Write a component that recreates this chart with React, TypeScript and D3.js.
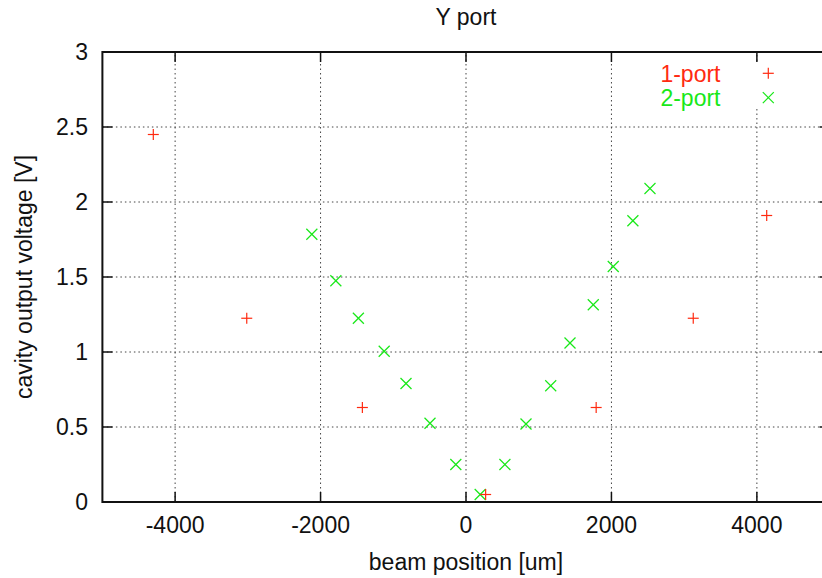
import React from "react";
import * as d3 from "d3";

const onePortX = [-4300, -3015, -1425, 270, 1790, 3125, 4135];
const onePortY = [2.45, 1.225, 0.63, 0.05, 0.63, 1.225, 1.91];
const twoPortX = [-2120, -1790, -1480, -1125, -825, -495, -140, 195, 535, 825, 1165, 1430, 1750, 2025, 2295, 2530];
const twoPortY = [1.785, 1.475, 1.225, 1.005, 0.79, 0.525, 0.25, 0.05, 0.25, 0.52, 0.775, 1.06, 1.315, 1.57, 1.875, 2.09];
const xTicks = [-4000, -2000, 0, 2000, 4000];
const yTicks = [0, 0.5, 1, 1.5, 2, 2.5, 3];
const seriesNames = ["1-port", "2-port"];

const W = 822, H = 578;
const RED = "#ff2a10";
const GREEN = "#18e818";
const FONT = "'Liberation Sans', Arial, Helvetica, sans-serif";

export default function App() {
  const x = d3.scaleLinear().domain([-5000, 5000]).range([102.4, 829.6]);
  const y = d3.scaleLinear().domain([0, 3]).range([502, 52]);
  const [x0, x1] = x.range();
  const [y0, y1] = y.range();
  const tl = 10;
  const plus = (cx: number, cy: number, c: string, k: string) => (
    <g key={k} stroke={c} strokeWidth={1.2}>
      <line x1={cx - 5.5} x2={cx + 5.5} y1={cy} y2={cy} />
      <line x1={cx} x2={cx} y1={cy - 5.5} y2={cy + 5.5} />
    </g>
  );
  const cross = (cx: number, cy: number, c: string, k: string) => (
    <g key={k} stroke={c} strokeWidth={1.2}>
      <line x1={cx - 5.5} x2={cx + 5.5} y1={cy - 5.5} y2={cy + 5.5} />
      <line x1={cx - 5.5} x2={cx + 5.5} y1={cy + 5.5} y2={cy - 5.5} />
    </g>
  );
  return (
    <svg width={W} height={H} style={{ position: "absolute", left: 0, top: 0, background: "#fff" }} fontFamily={FONT}>
      <rect x={0} y={0} width={W} height={H} fill="#fff" />
      {/* grid */}
      <g stroke="#444" strokeWidth={1} strokeDasharray="1.5,3">
        {xTicks.map((t) => (
          <line key={"gx" + t} x1={x(t)} x2={x(t)} y1={y0} y2={y1} />
        ))}
        {yTicks.slice(1, -1).map((t) => (
          <line key={"gy" + t} x1={x0} x2={x1} y1={y(t)} y2={y(t)} />
        ))}
      </g>
      {/* legend backing */}
      <rect x={640} y={62} width={150} height={46} fill="#fff" />
      {/* ticks */}
      <g stroke="#111" strokeWidth={1.5}>
        {xTicks.map((t) => (
          <g key={"tx" + t}>
            <line x1={x(t)} x2={x(t)} y1={y0} y2={y0 - tl} />
            <line x1={x(t)} x2={x(t)} y1={y1} y2={y1 + tl} />
          </g>
        ))}
        {yTicks.map((t) => (
          <g key={"ty" + t}>
            <line x1={x0} x2={x0 + tl} y1={y(t)} y2={y(t)} />
            <line x1={x1} x2={x1 - tl} y1={y(t)} y2={y(t)} />
          </g>
        ))}
      </g>
      {/* frame */}
      <rect x={x0} y={y1} width={x1 - x0} height={y0 - y1} fill="none" stroke="#111" strokeWidth={2} />
      {/* tick labels */}
      <g fontSize={23} fill="#111">
        {xTicks.map((t) => (
          <text key={"lx" + t} x={x(t)} y={533} textAnchor="middle">{t}</text>
        ))}
        {yTicks.map((t) => (
          <text key={"ly" + t} x={88} y={y(t) + 8.2} textAnchor="end">{t}</text>
        ))}
      </g>
      <text x={466} y={25} fontSize={23} textAnchor="middle" fill="#111">Y port</text>
      <text x={466} y={570} fontSize={23} textAnchor="middle" fill="#111">beam position [um]</text>
      <text transform={`translate(31.5,${(y0 + y1) / 2}) rotate(-90)`} fontSize={23} textAnchor="middle" fill="#111">
        cavity output voltage [V]
      </text>
      {/* data */}
      {twoPortX.map((v, i) => cross(x(v), y(twoPortY[i]), GREEN, "g" + i))}
      {onePortX.map((v, i) => plus(x(v), y(onePortY[i]), RED, "r" + i))}
      {/* legend */}
      <text x={720.5} y={81.5} fontSize={23} textAnchor="end" fill={RED}>{seriesNames[0]}</text>
      {plus(768.3, 73.3, RED, "lr")}
      <text x={720.5} y={105.5} fontSize={23} textAnchor="end" fill={GREEN}>{seriesNames[1]}</text>
      {cross(768.3, 97.7, GREEN, "lg")}
    </svg>
  );
}
